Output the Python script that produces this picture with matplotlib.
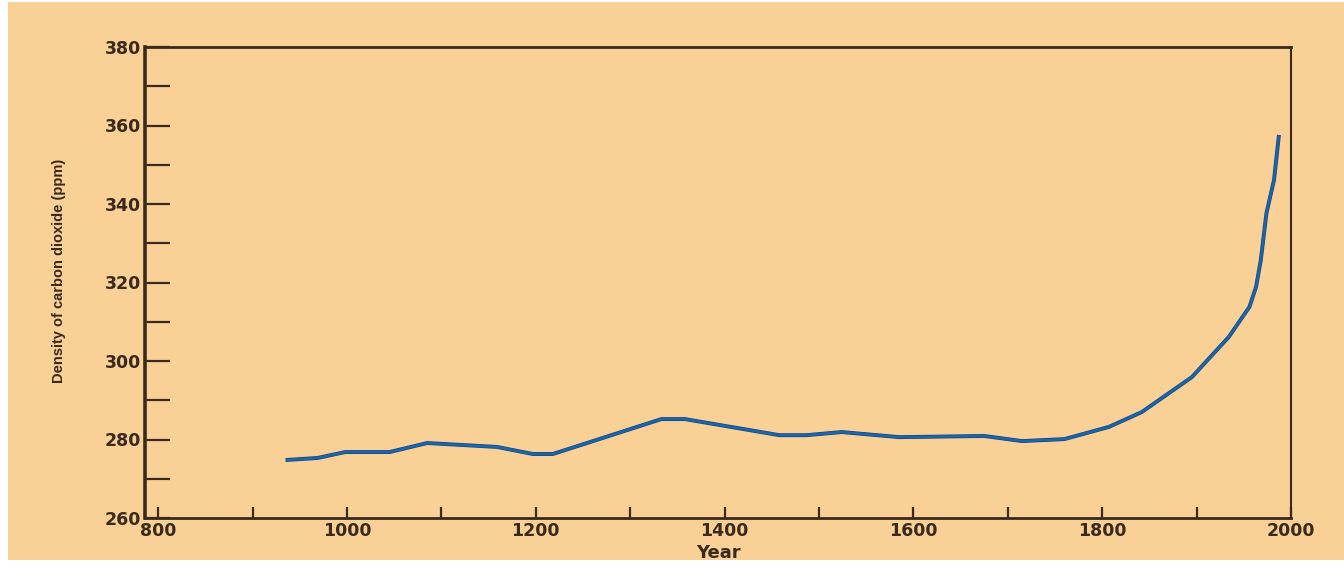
import matplotlib
matplotlib.use("Agg")
import matplotlib.pyplot as plt
import matplotlib.patheffects as pe
from matplotlib.patches import Rectangle
from matplotlib.ticker import MultipleLocator

# Data
years = [937, 969, 998, 1045, 1085, 1159, 1197, 1218, 1333, 1358, 1458, 1487,
         1524, 1585, 1675, 1715, 1760, 1807, 1842, 1895, 1934, 1956, 1963,
         1968, 1974, 1982, 1987]
co2_ppm = [274.8, 275.3, 276.8, 276.8, 279.1, 278.1, 276.3, 276.3, 285.2, 285.2,
           281.1, 281.1, 281.9, 280.6, 280.9, 279.6, 280.1, 283.2, 287.0, 295.9,
           306.1, 313.8, 318.9, 325.7, 337.7, 346.1, 357.1]

x_major = [800, 1000, 1200, 1400, 1600, 1800, 2000]
y_major = [260, 280, 300, 320, 340, 360, 380]
x_label = "Year"
y_label = "Density of carbon dioxide (ppm)"

BG = "#F9D196"
INK = "#3a2a1c"
LINE = "#1766b3"

fig = plt.figure(figsize=(13.44, 5.70), dpi=100)
fig.patch.set_facecolor("white")
fig.patches.append(Rectangle((8 / 1344, 10 / 570), 1 - 8 / 1344, 1 - 12 / 570,
                             transform=fig.transFigure, facecolor=BG,
                             edgecolor="none", zorder=-10))

ax = fig.add_axes([145 / 1344, 1 - 518 / 570, (1291 - 145) / 1344, (518 - 47) / 570])
ax.set_zorder(5)
ax.set_facecolor(BG)

ax.plot(years, co2_ppm, color=LINE, lw=1.9, solid_joinstyle="round",
        path_effects=[pe.Stroke(linewidth=2.8, foreground="#1d3f66"), pe.Normal()],
        zorder=3)

ax.set_xlim(786, 2000)
ax.set_ylim(260, 380)
ax.set_xticks(x_major)
ax.set_yticks(y_major)
ax.xaxis.set_minor_locator(MultipleLocator(100))
ax.yaxis.set_minor_locator(MultipleLocator(10))

ax.tick_params(axis="x", which="both", direction="in", length=8, width=1.6,
               color=INK, pad=3, labelsize=12.5, labelcolor=INK)
ax.tick_params(axis="y", which="both", direction="in", length=18, width=1.6,
               color=INK, pad=3, labelsize=12.5, labelcolor=INK)
for lab in ax.get_xticklabels() + ax.get_yticklabels():
    lab.set_fontweight("bold")
    lab.set_family("DejaVu Sans")

for side, w in {"left": 2.6, "bottom": 2.0, "top": 2.0, "right": 1.5}.items():
    ax.spines[side].set_color(INK)
    ax.spines[side].set_linewidth(w)

ax.set_xlabel(x_label, fontsize=13, fontweight="bold", color=INK,
              family="DejaVu Sans", labelpad=3)
ax.set_ylabel(y_label, fontsize=10.5, fontweight="bold", color=INK,
              family="Liberation Sans", fontstretch="condensed")
ax.yaxis.set_label_coords(-0.069, 0.524)

fig.savefig("out.png", dpi=100, facecolor=fig.get_facecolor())
